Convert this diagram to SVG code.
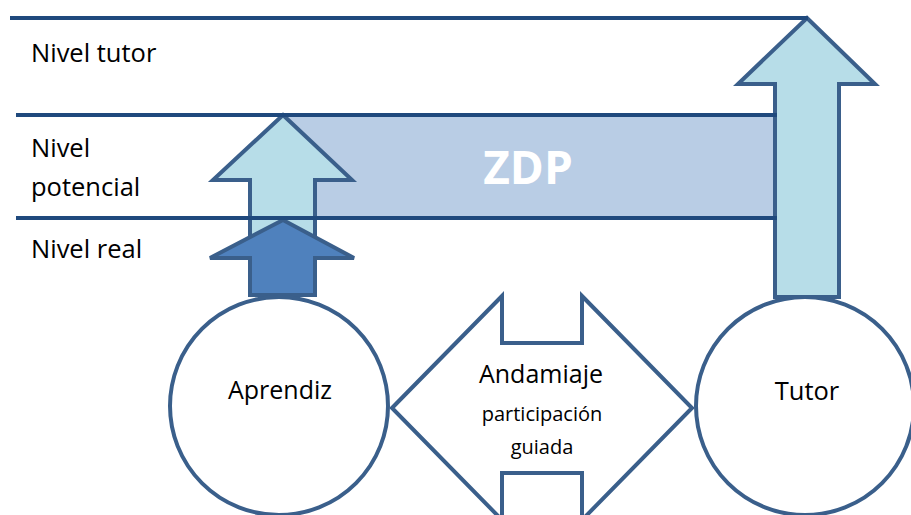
<svg xmlns="http://www.w3.org/2000/svg" width="911" height="515" viewBox="0 0 911 515">
<style>
.lvl{stroke:#1F497D;stroke-width:4;fill:none}
.shp{stroke:#3A5F8B;stroke-width:4;stroke-linejoin:miter}
.t{font-family:"Open Sans","Liberation Sans",sans-serif;fill:#000}
</style>
<rect width="911" height="515" fill="#fff"/>
<g id="zdp">
<rect x="287" y="115" width="486" height="103" fill="#B9CDE5"/>
<text class="t" x="528" y="184" text-anchor="middle" font-size="46" font-weight="bold" style="fill:#fff">ZDP</text>
</g>
<g id="arrow-potencial">
<path class="shp" fill="#B7DDE8" d="M283,115 L352,180 L315,180 L315,295 L250,295 L250,180 L213,180 Z"/>
</g>
<g id="arrow-real">
<path class="shp" fill="#4F81BD" d="M283,220 L354,258 L315,258 L315,295 L250,295 L250,258 L210,258 Z"/>
</g>
<g id="arrow-tutor">
<path class="shp" fill="#B7DDE8" d="M807,18 L875,84 L839,84 L839,297 L775,297 L775,84 L738,84 Z"/>
</g>
<g id="connectors">
<line class="lvl" x1="10" y1="18" x2="808" y2="18"/>
<line class="lvl" x1="16" y1="115" x2="777" y2="115"/>
<line class="lvl" x1="16" y1="218" x2="777" y2="218"/>
</g>
<g id="labels">
<text class="t" x="31" y="62" font-size="25.5">Nivel tutor</text>
<text class="t" x="31" y="157" font-size="25.5">Nivel</text>
<text class="t" x="31" y="196" font-size="25.5">potencial</text>
<text class="t" x="31" y="258" font-size="25.5">Nivel real</text>
</g>
<g id="aprendiz">
<circle class="shp" cx="279" cy="406" r="109" fill="#fff"/>
<text class="t" x="280" y="399" font-size="25" text-anchor="middle">Aprendiz</text>
</g>
<g id="tutor">
<circle class="shp" cx="805" cy="406" r="109" fill="#fff"/>
<text class="t" x="807" y="400" font-size="25.5" text-anchor="middle">Tutor</text>
</g>
<g id="andamiaje">
<path class="shp" fill="#fff" d="M392,408 L502,296 L502,343 L582,343 L582,296 L692,408 L582,520 L582,473 L502,473 L502,520 Z"/>
<text class="t" x="541" y="383" font-size="25" text-anchor="middle">Andamiaje</text>
<text class="t" x="542" y="421" font-size="20" text-anchor="middle">participación</text>
<text class="t" x="542" y="454" font-size="20" text-anchor="middle">guiada</text>
</g>
</svg>
